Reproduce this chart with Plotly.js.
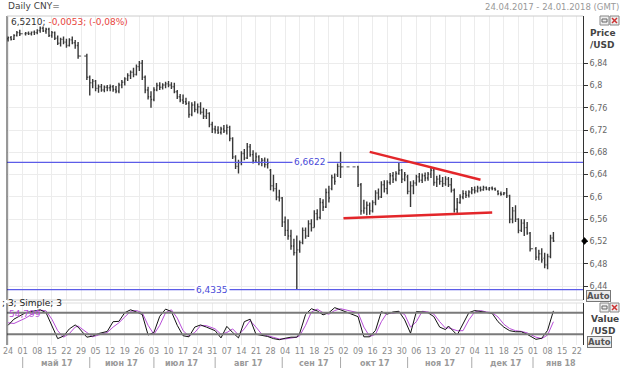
<!DOCTYPE html>
<html><head><meta charset="utf-8">
<script src="https://cdn.plot.ly/plotly-3.0.1.min.js"></script>
<style>html,body{margin:0;padding:0;background:#fff}#c{width:624px;height:369px}</style>
</head><body><div id="c"></div>
<script>
// ---------- DATA ----------
const startDate = '2017-04-24', endDate = '2018-01-10';
const holidays = ['2017-05-01','2017-05-29','2017-05-30','2017-10-02','2017-10-03','2017-10-04','2017-10-05','2017-10-06','2018-01-01'];

const open = [
6.884,6.886,6.883,6.890,6.895, 6.893,6.894,6.893,6.896, 6.895,6.899,6.903,6.898,6.901,
6.890,6.895,6.885,6.876,6.883, 6.878,6.872,6.882,6.877,6.872, 6.853,6.815,6.805,
6.808,6.795,6.798,6.792,6.797, 6.796,6.798,6.793,6.790,6.801, 6.806,6.812,6.818,6.824,6.820,
6.834,6.840,6.815,6.792,6.780, 6.775,6.792,6.800,6.797,6.801, 6.803,6.801,6.798,6.789,6.780,
6.774,6.771,6.768,6.748,6.765, 6.757,6.762,6.752,6.745,6.750, 6.730,6.722,6.720,6.716,6.722,
6.719,6.725,6.705,6.672,6.655, 6.662,6.678,6.670,6.690,6.676, 6.665,6.672,6.662,6.666,6.658,
6.648,6.620,6.615,6.600,6.598, 6.555,6.540,6.530,6.512,6.500, 6.505,6.518,6.540,6.530,6.552,
6.545,6.570,6.563,6.590,6.582, 6.608,6.615,6.635,6.640,6.655,
6.654,6.622,6.575,6.580,6.585, 6.575,6.590,6.607,6.600,6.622, 6.615,6.626,6.638,6.632,6.642,
6.648,6.632,6.636,6.610,6.620, 6.625,6.636,6.630,6.638,6.634, 6.641,6.648,6.626,6.632,6.628,
6.624,6.632,6.622,6.612,6.578, 6.590,6.600,6.606,6.603,6.609, 6.613,6.611,6.616,6.613,6.617,
6.614,6.616,6.615,6.610,6.606, 6.605,6.607,6.602,6.560,6.575, 6.560,6.540,6.553,6.545,6.535,
6.507,6.492,6.498,6.490, 6.478,6.493,6.5263];
const high = [
6.888,6.889,6.892,6.898,6.900, 6.896,6.897,6.897,6.899, 6.901,6.906,6.906,6.904,6.904,
6.898,6.897,6.890,6.886,6.888, 6.884,6.885,6.888,6.882,6.878, 6.857,6.818,6.812,
6.810,6.802,6.803,6.800,6.801, 6.802,6.801,6.799,6.805,6.810, 6.815,6.822,6.827,6.832,6.838,
6.844,6.846,6.818,6.798,6.790, 6.797,6.805,6.806,6.804,6.807, 6.808,6.806,6.805,6.792,6.785,
6.784,6.778,6.772,6.770,6.772, 6.768,6.770,6.760,6.758,6.752, 6.735,6.728,6.727,6.726,6.729,
6.730,6.728,6.707,6.675,6.667, 6.682,6.686,6.697,6.695,6.684, 6.680,6.675,6.670,6.671,6.669,
6.650,6.640,6.625,6.613,6.600, 6.565,6.560,6.541,6.525,6.531, 6.522,6.545,6.545,6.558,6.560,
6.576,6.578,6.598,6.596,6.615, 6.620,6.640,6.642,6.660,6.681,
6.656,6.625,6.595,6.592,6.590, 6.594,6.612,6.615,6.628,6.630, 6.630,6.643,6.645,6.646,6.661,
6.650,6.645,6.640,6.628,6.630, 6.640,6.643,6.642,6.644,6.645, 6.652,6.650,6.638,6.640,6.636,
6.637,6.636,6.634,6.615,6.598, 6.605,6.612,6.611,6.612,6.618, 6.619,6.620,6.619,6.620,6.619,
6.618,6.619,6.617,6.612,6.610, 6.609,6.616,6.604,6.582,6.585, 6.562,6.560,6.560,6.555,6.537,
6.510,6.505,6.508,6.500, 6.498,6.532,6.537];
const low = [
6.879,6.881,6.882,6.888,6.889, 6.890,6.891,6.890,6.891, 6.892,6.895,6.896,6.893,6.887,
6.886,6.882,6.873,6.870,6.874, 6.868,6.870,6.874,6.866,6.848, 6.810,6.782,6.795,
6.790,6.787,6.789,6.788,6.790, 6.790,6.789,6.786,6.786,6.795, 6.800,6.808,6.812,6.815,6.818,
6.826,6.810,6.786,6.775,6.760, 6.772,6.790,6.792,6.793,6.795, 6.797,6.794,6.786,6.776,6.770,
6.767,6.765,6.742,6.745,6.752, 6.750,6.748,6.740,6.740,6.725, 6.715,6.714,6.713,6.712,6.715,
6.712,6.700,6.668,6.650,6.642, 6.657,6.666,6.668,6.672,6.660, 6.661,6.657,6.655,6.653,6.651,
6.612,6.610,6.594,6.592,6.546, 6.530,6.523,6.505,6.495,6.4335, 6.500,6.515,6.525,6.528,6.538,
6.545,6.558,6.560,6.575,6.580, 6.590,6.612,6.622,6.636,6.634,
6.618,6.568,6.570,6.567,6.568, 6.572,6.585,6.595,6.598,6.608, 6.605,6.622,6.625,6.628,6.640,
6.625,6.628,6.605,6.582,6.605, 6.620,6.626,6.625,6.628,6.629, 6.634,6.620,6.618,6.622,6.618,
6.620,6.618,6.608,6.572,6.570, 6.588,6.596,6.598,6.599,6.605, 6.606,6.608,6.610,6.611,6.612,
6.611,6.612,6.611,6.603,6.602, 6.603,6.598,6.553,6.553,6.555, 6.535,6.537,6.530,6.532,6.502,
6.487,6.486,6.482,6.472, 6.470,6.490,6.519];
const close = [
6.886,6.883,6.890,6.895,6.893, 6.894,6.893,6.896,6.895, 6.899,6.903,6.898,6.901,6.890,
6.895,6.885,6.876,6.883,6.878, 6.872,6.882,6.877,6.872,6.853, 6.815,6.805,6.808,
6.795,6.798,6.792,6.797,6.796, 6.798,6.793,6.790,6.801,6.806, 6.812,6.818,6.824,6.820,6.834,
6.840,6.815,6.792,6.780,6.775, 6.792,6.800,6.797,6.801,6.803, 6.801,6.798,6.789,6.780,6.774,
6.771,6.768,6.748,6.765,6.757, 6.762,6.752,6.745,6.750,6.730, 6.722,6.720,6.716,6.722,6.719,
6.725,6.705,6.672,6.655,6.662, 6.678,6.670,6.690,6.676,6.665, 6.672,6.662,6.666,6.658,6.661,
6.620,6.615,6.600,6.598,6.555, 6.540,6.530,6.512,6.500,6.505, 6.518,6.540,6.530,6.552,6.545,
6.570,6.563,6.590,6.582,6.608, 6.598,6.635,6.628,6.655,6.654,
6.622,6.575,6.580,6.585,6.575, 6.590,6.607,6.600,6.622,6.615, 6.626,6.638,6.632,6.642,6.648,
6.632,6.640,6.610,6.620,6.625, 6.636,6.630,6.638,6.634,6.641, 6.648,6.626,6.632,6.628,6.624,
6.632,6.622,6.612,6.578,6.590, 6.600,6.606,6.603,6.609,6.613, 6.611,6.616,6.613,6.617,6.614,
6.616,6.615,6.613,6.606,6.605, 6.607,6.602,6.560,6.575,6.560, 6.540,6.553,6.545,6.535,6.507,
6.492,6.498,6.487,6.478, 6.493,6.5263,6.5210];

// Stochastic oscillator readings
const stochDates = ['2017-04-24','2017-04-26','2017-05-02','2017-05-05','2017-05-09','2017-05-11','2017-05-15','2017-05-17','2017-05-19','2017-05-23','2017-05-25','2017-05-26','2017-05-31','2017-06-02','2017-06-06','2017-06-09','2017-06-13','2017-06-15','2017-06-19','2017-06-21','2017-06-23','2017-06-27','2017-06-29','2017-07-03','2017-07-05','2017-07-07','2017-07-11','2017-07-13','2017-07-17','2017-07-19','2017-07-21','2017-07-25','2017-07-27','2017-08-01','2017-08-03','2017-08-07','2017-08-09','2017-08-11','2017-08-15','2017-08-17','2017-08-21','2017-08-23','2017-08-25','2017-08-29','2017-08-31','2017-09-04','2017-09-06','2017-09-08','2017-09-11','2017-09-13','2017-09-15','2017-09-19','2017-09-21','2017-09-25','2017-09-27','2017-09-29','2017-10-09','2017-10-11','2017-10-13','2017-10-17','2017-10-19','2017-10-23','2017-10-25','2017-10-27','2017-10-31','2017-11-02','2017-11-06','2017-11-08','2017-11-10','2017-11-14','2017-11-16','2017-11-20','2017-11-21','2017-11-24','2017-11-28','2017-11-30','2017-12-04','2017-12-06','2017-12-08','2017-12-12','2017-12-14','2017-12-18','2017-12-20','2017-12-22','2017-12-26','2017-12-28','2018-01-02','2018-01-04','2018-01-08','2018-01-10'];
const stochK = [45,62,80,86,88,80,45,8,15,35,46,40,12,15,22,28,55,56,80,88,82,75,18,25,70,90,83,45,16,13,40,46,40,30,10,42,25,10,55,62,20,17,14,8,5,9,12,12,23,75,91,85,74,80,94,88,69,13,13,31,83,76,82,84,60,23,83,82,80,69,40,33,43,18,50,80,86,84,80,78,55,40,30,27,27,20,6,9,31,85];
const stochD = [52,50,65,80,87,85,62,30,12,22,40,43,25,13,18,25,40,52,68,84,86,80,45,20,45,80,88,65,30,15,25,44,44,35,20,25,35,18,35,58,40,20,16,12,7,7,10,12,16,45,82,90,80,76,86,91,80,40,14,20,55,80,78,82,75,40,55,84,82,76,55,37,38,30,30,60,82,86,82,80,68,48,36,30,28,24,12,8,18,54.799];
const stochLevels = [20, 80];
const stochLabel = '; 3; Simple; 3';

const priceTicks = [6.44,6.48,6.52,6.56,6.6,6.64,6.68,6.72,6.76,6.8,6.84];
const priceTickText = ['6,44','6,48','6,52','6,56','6,6','6,64','6,68','6,72','6,76','6,8','6,84'];
const levels = [6.6622, 6.4335];
const levelLabelPos = [0.526, 0.356];
const trendUpper = {x: ['2017-10-13','2017-12-06'], y: [6.681, 6.631]};
const trendLower = {x: ['2017-10-02','2017-12-12'], y: [6.562, 6.572]};
const monthStarts = ['2017-05-01','2017-06-01','2017-07-01','2017-08-01','2017-09-01','2017-10-01','2017-11-01','2017-12-01','2018-01-01'];
const monthLabels = ['май 17','июн 17','июл 17','авг 17','сен 17','окт 17','ноя 17','дек 17','янв 18'];
const xRange = ['2017-04-21 14:50','2018-01-24 03:30'];

// ---------- BUILD ----------
const dates = [];
{ let d = new Date(startDate+'T00:00:00Z'); const e = new Date(endDate+'T00:00:00Z');
  while (d <= e) { const w = d.getUTCDay(); const s = d.toISOString().slice(0,10);
    if (w !== 0 && w !== 6 && !holidays.includes(s)) dates.push(s);
    d = new Date(d.getTime() + 86400000); } }

const FONT = 'DejaVu Sans';
const L = 7, R = 41, T = 16, B = 24, W = 624, H = 369;
const pw = W - L - R, ph = H - T - B;
const px = v => (v - L) / pw;
const py = v => (H - B - v) / ph;
const yRange = [6.4150, 6.9249];
const mainBot = py(300), lowTop = py(303);

const traces = [];
traces.push({type:'ohlc', x:dates, open:open, high:high, low:low, close:close,
  xaxis:'x', yaxis:'y', tickwidth:0.35, hoverinfo:'skip', showlegend:false,
  increasing:{line:{color:'#383838', width:1.4}}, decreasing:{line:{color:'#383838', width:1.4}}});

// dotted connectors across holiday gaps
const dayMs = 86400000;
function nextWeekday(s){ let d = new Date(new Date(s+'T00:00:00Z').getTime()+dayMs);
  while (d.getUTCDay()===0 || d.getUTCDay()===6) d = new Date(d.getTime()+dayMs); return d.toISOString().slice(0,10); }
for (let i = 1; i < dates.length; i++) {
  if (nextWeekday(dates[i-1]) !== dates[i]) {
    traces.push({type:'scatter', mode:'lines', x:[dates[i-1], dates[i]], y:[close[i-1], open[i]],
      xaxis:'x', yaxis:'y', line:{color:'#555', width:1, dash:'dot'}, hoverinfo:'skip', showlegend:false});
  }
}
traces.push({type:'scatter', mode:'lines', x:stochDates, y:stochD, xaxis:'x', yaxis:'y2',
  line:{color:'#b84fd8', width:1}, hoverinfo:'skip', showlegend:false});
traces.push({type:'scatter', mode:'lines', x:stochDates, y:stochK, xaxis:'x', yaxis:'y2',
  line:{color:'#111', width:1}, hoverinfo:'skip', showlegend:false});

const shapes = [];
levels.forEach(v => shapes.push({type:'line', xref:'paper', yref:'y', x0:0, x1:1, y0:v, y1:v, line:{color:'#5c5ce8', width:1.3}}));
[trendUpper, trendLower].forEach(t => shapes.push({type:'line', xref:'x', yref:'y', x0:t.x[0], x1:t.x[1], y0:t.y[0], y1:t.y[1], line:{color:'#e3262a', width:2.5}}));
stochLevels.forEach(v => shapes.push({type:'line', xref:'paper', yref:'y2', x0:0, x1:1, y0:v, y1:v, line:{color:'#7a7a7a', width:2}}));
monthStarts.forEach(m => shapes.push({type:'line', xref:'x', yref:'paper', x0:m, x1:m, y0:py(357), y1:py(368), line:{color:'#aaa', width:1}}));
// panel borders
shapes.push({type:'line', xref:'paper', yref:'paper', x0:0, x1:0, y0:mainBot, y1:1, line:{color:'#333', width:1}});
shapes.push({type:'line', xref:'paper', yref:'paper', x0:0, x1:0, y0:0, y1:lowTop, line:{color:'#333', width:1}});
shapes.push({type:'line', xref:'paper', yref:'paper', x0:0, x1:1, y0:1, y1:1, line:{color:'#ccc', width:1}});
shapes.push({type:'line', xref:'paper', yref:'paper', x0:0, x1:1, y0:mainBot, y1:mainBot, line:{color:'#ccc', width:1}});
shapes.push({type:'line', xref:'paper', yref:'paper', x0:0, x1:1, y0:lowTop, y1:lowTop, line:{color:'#ddd', width:1}});
// last-price marker on the price axis
{ const c = close[close.length-1], cx = px(584.5), dx = 3/pw, dy = 3.5*(yRange[1]-yRange[0])/((1-mainBot)*ph);
  shapes.push({type:'path', xref:'paper', yref:'y', path:`M ${cx-dx},${c} L ${cx},${c+dy} L ${cx+dx},${c} L ${cx},${c-dy} Z`,
    fillcolor:'#000', line:{color:'#000', width:0.5}}); }
// window icons
function icons(yTop){
  shapes.push({type:'rect', xref:'paper', yref:'paper', x0:px(600), x1:px(609), y0:py(yTop+9), y1:py(yTop), line:{color:'#888', width:1}, fillcolor:'#eee'});
  shapes.push({type:'rect', xref:'paper', yref:'paper', x0:px(602), x1:px(607), y0:py(yTop+6), y1:py(yTop+3), line:{color:'#666', width:1}});
  shapes.push({type:'rect', xref:'paper', yref:'paper', x0:px(610), x1:px(619), y0:py(yTop+9), y1:py(yTop), line:{color:'#888', width:1}, fillcolor:'#eee'});
  shapes.push({type:'line', xref:'paper', yref:'paper', x0:px(612), x1:px(617), y0:py(yTop+2), y1:py(yTop+7), line:{color:'#c33', width:1.5}});
  shapes.push({type:'line', xref:'paper', yref:'paper', x0:px(612), x1:px(617), y0:py(yTop+7), y1:py(yTop+2), line:{color:'#c33', width:1.5}});
}
icons(16); icons(303);

const fmt = (v, n) => v.toFixed(n).replace('.', ',');
const n = close.length;
const chg = close[n-1] - close[n-2];
const pct = chg / close[n-2] * 100;

const ann = [];
const A = (o) => ann.push(Object.assign({showarrow:false, xref:'paper', yref:'paper', font:{family:FONT, size:9, color:'#555'}}, o));
A({x:px(6), y:py(6), xanchor:'left', yanchor:'middle', text:'Daily CNY=', font:{family:FONT, size:9, color:'#444'}});
A({x:px(621), y:py(7), xanchor:'right', yanchor:'middle', text:'24.04.2017 - 24.01.2018 (GMT)', font:{family:FONT, size:8.5, color:'#999'}});
A({x:px(9), y:py(22), xanchor:'left', yanchor:'middle',
   text: fmt(close[n-1],4) + '; <span style="color:#e8453c">' + fmt(chg,4) + '; (' + fmt(pct,2) + '%)</span>',
   font:{family:FONT, size:9, color:'#333'}});
levels.forEach((v,i) => A({x:levelLabelPos[i], yref:'y', y:v, xanchor:'center', yanchor:'middle', text:fmt(v,4),
   bgcolor:'#fff', borderpad:1, font:{family:FONT, size:9, color:'#4a4ad8'}}));
A({x:px(588), y:py(33), xanchor:'left', yanchor:'middle', text:'<b>Price</b>', font:{family:FONT, size:9, color:'#444'}});
A({x:px(588), y:py(45), xanchor:'left', yanchor:'middle', text:'<b>/USD</b>', font:{family:FONT, size:9, color:'#444'}});
A({x:px(589), y:py(319), xanchor:'left', yanchor:'middle', text:'<b>Value</b>', font:{family:FONT, size:9, color:'#444'}});
A({x:px(589), y:py(331), xanchor:'left', yanchor:'middle', text:'<b>/USD</b>', font:{family:FONT, size:9, color:'#444'}});
A({x:px(598), y:py(296), xanchor:'center', yanchor:'middle', text:'<b>Auto</b>', bgcolor:'#ececec', bordercolor:'#777', borderwidth:1, borderpad:0, font:{family:FONT, size:8.5, color:'#555'}});
A({x:px(599), y:py(342), xanchor:'center', yanchor:'middle', text:'<b>Auto</b>', bgcolor:'#ececec', bordercolor:'#777', borderwidth:1, borderpad:0, font:{family:FONT, size:8.5, color:'#555'}});
A({x:px(0), y:py(303), xanchor:'left', yanchor:'middle', text:stochLabel, font:{family:FONT, size:9, color:'#222'}});
A({x:px(7), y:py(314), xanchor:'left', yanchor:'middle', text:fmt(stochD[stochD.length-1],3), font:{family:FONT, size:9, color:'#b84fd8'}});
const endMs = new Date(xRange[1].replace(' ','T')+':00Z').getTime();
monthStarts.forEach((m,i) => {
  const a = new Date(m+'T00:00:00Z').getTime();
  const b = i+1 < monthStarts.length ? new Date(monthStarts[i+1]+'T00:00:00Z').getTime() : endMs;
  const mid = new Date((a+b)/2).toISOString().slice(0,16).replace('T',' ');
  A({xref:'x', x:mid, y:py(363), xanchor:'center', yanchor:'middle', text:'<b>'+monthLabels[i]+'</b>', font:{family:FONT, size:8, color:'#9a9a9a'}});
});

const layout = {
  width:W, height:H, margin:{l:L, r:R, t:T, b:B, pad:0},
  paper_bgcolor:'#fff', plot_bgcolor:'#fff', showlegend:false, dragmode:false,
  xaxis:{type:'date', range:xRange, anchor:'y2', rangebreaks:[{bounds:['sat','mon']}],
    tickmode:'linear', tick0:'2017-04-24', dtick:7*dayMs, tickformat:'%d', ticks:'',
    showgrid:true, gridcolor:'#ececec', gridwidth:1, zeroline:false, showline:false,
    tickfont:{family:FONT, size:8, color:'#8a8a8a'}, rangeslider:{visible:false}, fixedrange:true},
  yaxis:{domain:[mainBot, 1], range:yRange, side:'right', tickmode:'array', tickvals:priceTicks, ticktext:priceTickText,
    ticks:'outside', ticklen:4, tickcolor:'#333', showline:true, linecolor:'#333', linewidth:1,
    showgrid:true, gridcolor:'#ececec', zeroline:false, tickfont:{family:FONT, size:8, color:'#666'}, fixedrange:true},
  yaxis2:{domain:[0, lowTop], range:[-9.7, 106.9], side:'right', showticklabels:false, ticks:'',
    showline:true, linecolor:'#333', linewidth:1, showgrid:false, zeroline:false, fixedrange:true},
  shapes:shapes, annotations:ann
};
Plotly.newPlot('c', traces, layout, {staticPlot:true, displayModeBar:false});
</script></body></html>
